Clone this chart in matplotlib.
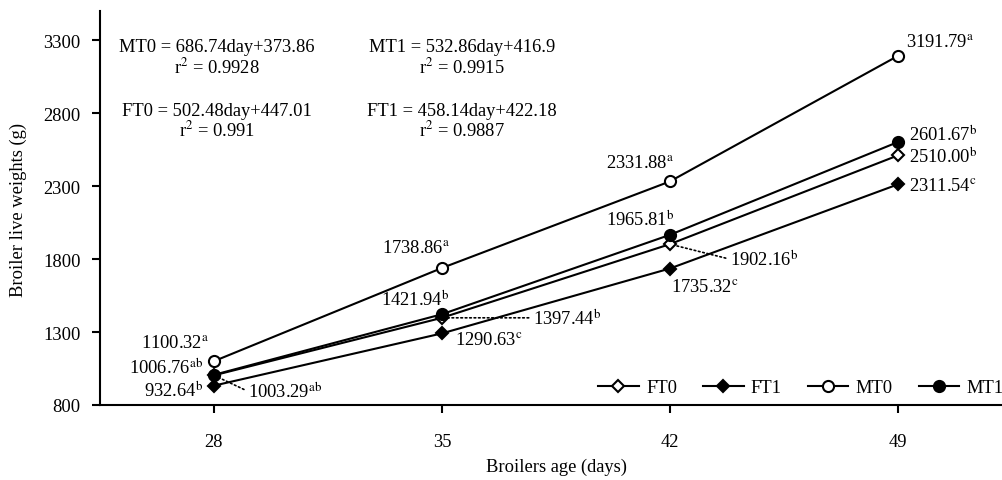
import numpy as np
import matplotlib
matplotlib.use("Agg")
import matplotlib.pyplot as plt

plt.rcParams['font.family'] = ['Liberation Serif', 'DejaVu Serif']
plt.rcParams['mathtext.fontset'] = 'stix'

# data
days = [28, 35, 42, 49]
ft0 = [1003.29, 1397.44, 1902.16, 2510.00]
ft1 = [932.64, 1290.63, 1735.32, 2311.54]
mt0 = [1100.32, 1738.86, 2331.88, 3191.79]
mt1 = [1006.76, 1421.94, 1965.81, 2601.67]
ft0_sup = ['ab', 'b', 'b', 'b']
ft1_sup = ['b', 'c', 'c', 'c']
mt0_sup = ['a', 'a', 'a', 'a']
mt1_sup = ['ab', 'b', 'b', 'b']
y_ticks = [800, 1300, 1800, 2300, 2800, 3300]

FS = 13.3

fig = plt.figure(figsize=(10.02, 4.81), dpi=100)
ax = fig.add_axes([100/1002, 75/481, 902/1002, 394/481])

mk = dict(color='black', lw=1.5, markeredgewidth=1.5, markeredgecolor='black')
ax.plot(days, ft0, marker='D', ms=6, markerfacecolor='white', label='FT0', **mk)
ax.plot(days, ft1, marker='D', ms=6, markerfacecolor='black', label='FT1', **mk)
ax.plot(days, mt0, marker='o', ms=8, markerfacecolor='white', label='MT0', **mk)
ax.plot(days, mt1, marker='o', ms=8, markerfacecolor='black', label='MT1', **mk)

# label offsets (pixels) per point: dx, dy, ha, dotted leader
ft0_pos = [(34, -16, 'left', True), (91, 0, 'left', True), (60, -15, 'left', True), (11, 0, 'left', False)]
ft1_pos = [(-11, -4, 'right', False), (13, -6, 'left', False), (1, -18, 'left', False), (11, -1, 'left', False)]
mt0_pos = [(-39, 19, 'center', False), (-26, 20, 'center', False), (-30, 19, 'center', False), (8, 14, 'left', False)]
mt1_pos = [(-11, 8, 'right', False), (-27, 15, 'center', False), (-30, 16, 'center', False), (11, 8, 'left', False)]

for vals, sups, pos in [(ft0, ft0_sup, ft0_pos), (ft1, ft1_sup, ft1_pos),
                        (mt0, mt0_sup, mt0_pos), (mt1, mt1_sup, mt1_pos)]:
    for d, v, s, (dx, dy, ha, dotted) in zip(days, vals, sups, pos):
        txt = f'{v:.2f}' + r'$^{\mathrm{' + s + '}}$'
        arrow = None
        if dotted:
            arrow = dict(arrowstyle='-', linestyle=':', lw=1.2, color='black',
                         relpos=(0, 0.5), shrinkA=1, shrinkB=4)
        ax.annotate(txt, xy=(d, v), xytext=(dx, dy), textcoords='offset pixels',
                    ha=ha, va='center', fontsize=FS, arrowprops=arrow)

# regression equations
eqs = [(217, 48, 'MT0 = 686.74day+373.86', '0.9928'),
       (462, 48, 'MT1 = 532.86day+416.9', '0.9915'),
       (217, 111, 'FT0 = 502.48day+447.01', '0.991'),
       (462, 111, 'FT1 = 458.14day+422.18', '0.9887')]
for x, y, eq, r2 in eqs:
    fig.text(x/1002, 1 - y/481, eq, ha='center', va='center', fontsize=FS)
    fig.text(x/1002, 1 - (y + 19)/481, r'r$^2$ = ' + r2, ha='center', va='center', fontsize=FS)

ax.set_xlim(24.5, 52.2)
ax.set_ylim(800, 3500)
ax.set_xticks(days)
ax.set_yticks(y_ticks)
ax.tick_params(axis='both', direction='out', length=6, width=1.5, labelsize=FS)
ax.tick_params(axis='x', pad=14)
ax.tick_params(axis='y', pad=8)
for side in ['top', 'right']:
    ax.spines[side].set_visible(False)
for side in ['left', 'bottom']:
    ax.spines[side].set_linewidth(1.5)

ax.set_xlabel('Broilers age (days)', fontsize=FS)
ax.xaxis.set_label_coords(557/1002, 1 - 459/481, transform=fig.transFigure)
ax.set_ylabel('Broiler live weights (g)', fontsize=FS)
ax.yaxis.set_label_coords(27/1002, 1 - 210/481, transform=fig.transFigure)

fig.legend(loc='center left', bbox_to_anchor=(598/1002, 1 - 389/481), ncol=4,
           frameon=False, fontsize=FS, handlelength=2.2, handletextpad=0.4,
           columnspacing=1.4, borderpad=0, borderaxespad=0)

fig.savefig('out.png', dpi=100)
